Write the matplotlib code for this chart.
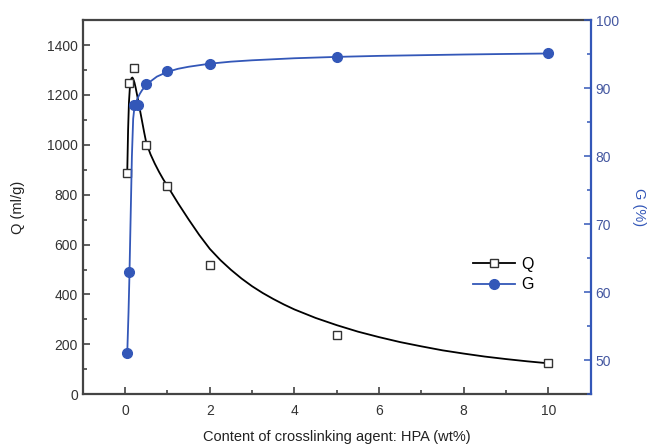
import matplotlib
matplotlib.use('Agg')
import matplotlib.pyplot as plt
from matplotlib.ticker import MultipleLocator
from matplotlib.lines import Line2D

plt.rcParams['font.family'] = ['Liberation Sans', 'DejaVu Sans']

# measured points
q_x = [0.05, 0.1, 0.2, 0.5, 1, 2, 5, 10]
q_y = [888, 1250, 1308, 1000, 835, 518, 237, 124]
g_x = [0.05, 0.1, 0.2, 0.3, 0.5, 1, 2, 5, 10]
g_y = [51, 63, 87.5, 87.5, 90.6, 92.5, 93.6, 94.6, 95.1]

# fitted curves
q_fit_x = [0.05, 0.07, 0.09, 0.11, 0.13, 0.15, 0.17, 0.19, 0.22, 0.25, 0.3, 0.35, 0.4, 0.45, 0.5,
           0.6, 0.7, 0.8, 0.9, 1, 1.25, 1.5, 1.75, 2, 2.25, 2.5, 2.75, 3, 3.25, 3.5, 3.75, 4, 4.5, 5,
           5.5, 6, 6.5, 7, 7.5, 8, 8.5, 9, 9.5, 10]
q_fit_y = [890, 1060, 1170, 1225, 1255, 1267, 1270, 1265, 1250, 1228, 1185, 1140, 1095, 1050, 1008,
           962, 925, 892, 862, 835, 766, 701, 639, 583, 538, 499, 464, 433, 406, 382, 360, 340, 306, 277,
           251, 229, 209, 192, 176, 163, 151, 141, 132, 124]
g_fit_x = [0.05, 0.08, 0.1, 0.13, 0.16, 0.19, 0.22, 0.26, 0.3, 0.35, 0.4, 0.5, 0.6, 0.75, 1, 1.25, 1.5, 2,
           2.5, 3, 4, 5, 6, 7, 8, 9, 10]
g_fit_y = [51, 57, 62, 71, 80, 85.5, 87.2, 88.0, 88.6, 89.2, 89.7, 90.5, 91.0, 91.7, 92.4, 92.85, 93.15, 93.6,
           93.9, 94.1, 94.4, 94.6, 94.75, 94.85, 94.95, 95.03, 95.1]

blue = '#3357b8'
dark = '#333333'

fig = plt.figure(figsize=(6.52, 4.48), dpi=100)
ax = fig.add_axes([0.127, 0.12, 0.779, 0.835])
ax2 = ax.twinx()

ax.plot(q_fit_x, q_fit_y, color='black', lw=1.3, zorder=2)
ax.plot(q_x, q_y, ls='none', marker='s', ms=5.5, mfc='white', mec='#333333', mew=1.0, zorder=3)

ax2.plot(g_fit_x, g_fit_y, color=blue, lw=1.3, zorder=2)
ax2.plot(g_x, g_y, ls='none', marker='o', ms=7, color=blue, zorder=3)

ax.set_xlim(-1, 11)
ax.set_ylim(0, 1500)
ax2.set_ylim(45, 100)

ax.xaxis.set_major_locator(MultipleLocator(2))
ax.xaxis.set_minor_locator(MultipleLocator(1))
ax.yaxis.set_major_locator(MultipleLocator(200))
ax.yaxis.set_minor_locator(MultipleLocator(100))
ax.set_yticks(range(0, 1401, 200))
ax2.yaxis.set_major_locator(MultipleLocator(10))
ax2.yaxis.set_minor_locator(MultipleLocator(5))
ax2.set_yticks(range(50, 101, 10))

ax.tick_params(axis='both', which='major', direction='in', length=5, width=1.1, colors=dark, labelsize=10, labelcolor='#333333')
ax.tick_params(axis='both', which='minor', direction='in', length=3, width=1.1, colors=dark)
ax.tick_params(axis='x', pad=7)
ax2.tick_params(axis='y', which='major', direction='in', length=5, width=1.1, colors=blue, labelsize=10, labelcolor='#4457a0')
ax2.tick_params(axis='y', which='minor', direction='in', length=3, width=1.1, colors=blue)

for s in ['left', 'bottom', 'top']:
    ax.spines[s].set_color('#444444')
    ax.spines[s].set_linewidth(1.6)
ax2.spines['right'].set_color(blue)
ax2.spines['right'].set_linewidth(1.6)
ax2.spines['left'].set_visible(False)
ax2.spines['top'].set_visible(False)
ax2.spines['bottom'].set_visible(False)
ax.spines['right'].set_visible(False)

ax.set_xlabel('Content of crosslinking agent: HPA (wt%)', fontsize=10.5, color='#222222', labelpad=9)
ax.set_ylabel('Q (ml/g)', fontsize=10.5, color='#222222', labelpad=16)
ax2.set_ylabel('G (%)', fontsize=10.5, color=blue, rotation=-90, labelpad=20)

handles = [
    Line2D([], [], color='black', lw=1.3, marker='s', ms=5.5, mfc='white', mec='#333333'),
    Line2D([], [], color=blue, lw=1.3, marker='o', ms=7),
]
leg = ax.legend(handles, ['Q', 'G'], loc='center left', bbox_to_anchor=(0.74, 0.32),
                frameon=False, fontsize=11.5, handlelength=2.6, handletextpad=0.4, labelspacing=0.35)

fig.savefig('out.png', dpi=100)
